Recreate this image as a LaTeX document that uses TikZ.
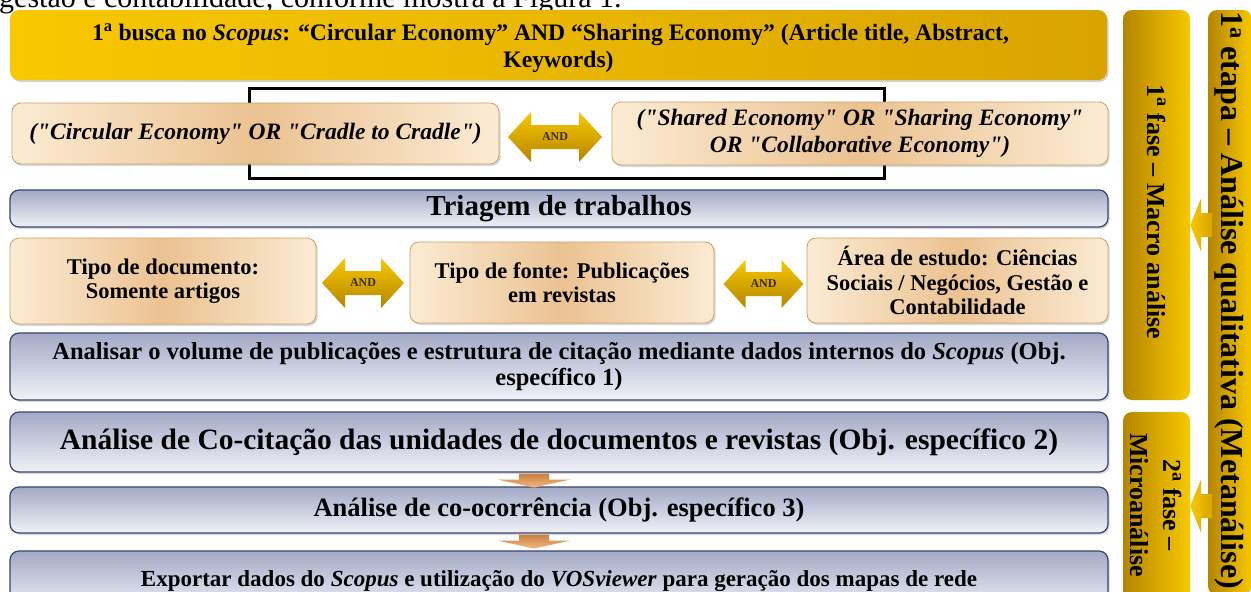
\documentclass[tikz,border=0pt]{standalone}
\usepackage{fontspec}
\setmainfont{Liberation Serif}
\newfontfamily\qf{Liberation Serif}
\usetikzlibrary{shadows,calc}
\definecolor{goldA}{HTML}{F8C800}
\definecolor{goldB}{HTML}{D9A400}
\definecolor{goldC}{HTML}{B58500}
\definecolor{peachA}{HTML}{FCEBD4}
\definecolor{peachB}{HTML}{EBC291}
\definecolor{peachLine}{HTML}{C9A064}
\definecolor{blueTop}{HTML}{A3A9C6}
\definecolor{blueBot}{HTML}{F1F2F7}
\definecolor{blueLine}{HTML}{3A4470}
\definecolor{orD}{HTML}{C98143}
\definecolor{orL}{HTML}{F2B880}
\definecolor{andTxt}{HTML}{3B2B00}
\tikzset{
  basebox/.style={rounded corners=9pt, align=center, inner sep=2pt, text=black},
  goldbox/.style={basebox, left color=goldA, right color=goldB,
    drop shadow={shadow xshift=1.5pt, shadow yshift=-2pt, opacity=.35}},
  peachbox/.style={basebox, draw=peachLine, line width=.8pt, left color=peachA, right color=peachA, middle color=peachB,
    drop shadow={shadow xshift=1.5pt, shadow yshift=-2pt, opacity=.3}},
  bluebox/.style={basebox, draw=blueLine, line width=1.2pt, top color=blueTop, bottom color=blueBot,
    drop shadow={shadow xshift=1.5pt, shadow yshift=-2pt, opacity=.3}},
  barbox/.style={rounded corners=9pt, inner sep=0pt, left color=goldC, right color=goldA},
  andfill/.style={top color=goldA, bottom color=goldC},
  sidefill/.style={left color=goldA, right color=goldB},
  downfill/.style={top color=orD, bottom color=orL},
  andlabel/.style={font=\fontsize{12}{12}\selectfont\bfseries, text=andTxt, inner sep=0pt},
  plaintext/.style={align=center, inner sep=0pt, text=black},
  fT/.style={font=\fontsize{23.6}{27}\selectfont\bfseries},
  fI/.style={font=\qf\fontsize{23.5}{27}\selectfont\bfseries\itshape},
  fTri/.style={font=\fontsize{29}{30}\selectfont\bfseries},
  fR/.style={font=\fontsize{22.5}{24.5}\selectfont\bfseries},
  fA/.style={font=\fontsize{24.5}{26}\selectfont\bfseries},
  fC/.style={font=\fontsize{29.5}{30}\selectfont\bfseries},
  fO/.style={font=\fontsize{26.5}{28}\selectfont\bfseries},
  fE/.style={font=\fontsize{23}{24}\selectfont\bfseries},
  fV/.style={rotate=-90, align=center, inner sep=0pt, text=black},
}
\newcommand{\andarr}[3]{% name, half length, half width
  \begin{scope}[shift={(#1)}]
    \shade[andfill] (-#2,0) -- (-#2+#3-2,-#3) -- (-#2+#3-2,-12) -- (#2-#3+2,-12) -- (#2-#3+2,-#3) -- (#2,0)
      -- (#2-#3+2,#3) -- (#2-#3+2,12) -- (-#2+#3-2,12) -- (-#2+#3-2,#3) -- cycle;
  \end{scope}}
\newcommand{\downarr}[1]{%
  \begin{scope}[shift={(#1)}]
    \shade[downfill] (-15,0) -- (15,0) -- (15,6) -- (36,6) -- (0,14) -- (-36,6) -- (-15,6) -- cycle;
  \end{scope}}
\newcommand{\sidearr}[1]{%
  \begin{scope}[shift={(#1)}]
    \shade[sidefill] (0,0) -- (11,-27) -- (11,-12) -- (22,-12) -- (22,12) -- (11,12) -- (11,27) -- cycle;
  \end{scope}}
\begin{document}
\begin{tikzpicture}[x=1pt,y=-1pt]
\useasboundingbox (0,0) rectangle (1251,592);
\fill[white] (0,0) rectangle (1251,592);
% page text cut at the top
\node[anchor=base west, inner sep=0pt, font=\fontsize{30}{30}\selectfont] (pagetext) at (-1,7) {gestão e contabilidade, conforme mostra a Figura 1.};

% top box
\node[goldbox, minimum width=1097pt, minimum height=70pt] (top) at (558.5,45) {};
\node[plaintext, fT] (toptext) at ($(top.center)+(0,3)$)
  {1\textsuperscript{a} busca no \textit{Scopus}: “Circular Economy” AND “Sharing Economy” (Article title, Abstract,\hspace*{16pt}\\Keywords)};

% bracket frame
\node[draw=black, line width=3pt, minimum width=635pt, minimum height=90pt, inner sep=0pt] (frame) at (566.5,133) {};

\node[peachbox, fI, minimum width=487pt, minimum height=61pt] (lbox) at (255.5,133.5)
  {("Circular Economy" OR "Cradle to Cradle")};
\node[peachbox, fI, minimum width=496pt, minimum height=63pt] (rbox) at (860,133.5)
  {("Shared Economy" OR "Sharing Economy"\\OR "Collaborative Economy")};
\coordinate (and1) at (555,137);
\andarr{and1}{47}{25}
\node[andlabel] (and1t) at (and1) {AND};

% triagem
\node[bluebox, fTri, minimum width=1098pt, minimum height=37pt] (tri) at (559,208.5) {Triagem de trabalhos};

% filters row
\node[peachbox, fR, minimum width=306pt, minimum height=86pt] (b1) at (163,281) {Tipo de documento:\\Somente artigos};
\node[peachbox, fR, minimum width=304pt, minimum height=81pt] (b2) at (562,282.5) {Tipo de fonte: Publicações\\em revistas};
\node[peachbox, fR, minimum width=301pt, minimum height=85pt] (b3) at (957.5,280.5) {Área de estudo: Ciências\\Sociais / Negócios, Gestão e\\Contabilidade};
\coordinate (and2) at (363,283);
\andarr{and2}{41}{25}
\node[andlabel] (and2t) at (and2) {AND};
\coordinate (and3) at (763.5,284);
\andarr{and3}{40}{24}
\node[andlabel] (and3t) at (and3) {AND};

% analysis boxes
\node[bluebox, fA, minimum width=1098pt, minimum height=67pt] (ana) at (559,366.5)
  {Analisar o volume de publicações e estrutura de citação mediante dados internos do \textit{Scopus} (Obj.\\específico 1)};
\node[bluebox, fC, minimum width=1098pt, minimum height=60pt] (cocit) at (559,442)
  {Análise de Co-citação das unidades de documentos e revistas (Obj. específico 2)};
\node[bluebox, fO, minimum width=1098pt, minimum height=46pt] (coocor) at (559,510)
  {Análise de co-ocorrência (Obj. específico 3)};
\node[bluebox, fE, minimum width=1098pt, minimum height=60pt] (export) at (559,581)
  {Exportar dados do \textit{Scopus} e utilização do \textit{VOSviewer} para geração dos mapas de rede};
\coordinate (d1) at ($(cocit.south)+(-25,1)$);
\downarr{d1}
\coordinate (d2) at ($(coocor.south)+(-25,1)$);
\downarr{d2}

% right bars
\node[barbox, minimum width=67pt, minimum height=390pt] (fase1) at (1156.5,205) {};
\node[barbox, minimum width=67pt, minimum height=198pt] (fase2) at (1156.5,511) {};
\node[barbox, minimum width=44pt, minimum height=585pt] (etapa) at (1230,302.5) {};
\node[fV, font=\fontsize{26}{27}\selectfont\bfseries] (fase1t) at (1157,212) {1\textsuperscript{a} fase – Macro análise};
\node[fV, font=\fontsize{26}{33}\selectfont\bfseries] (fase2t) at (1156,505) {2\textsuperscript{a} fase –\\Microanálise};
\node[fV, font=\fontsize{32}{32}\selectfont\bfseries] (etapat) at (1229,300) {1\textsuperscript{a} etapa – Análise qualitativa (Metanálise)};
\coordinate (s1) at ($(fase1.east |- 0,225)$);
\sidearr{s1}
\coordinate (s2) at ($(fase2.east |- 0,506)$);
\sidearr{s2}
\end{tikzpicture}
\end{document}
